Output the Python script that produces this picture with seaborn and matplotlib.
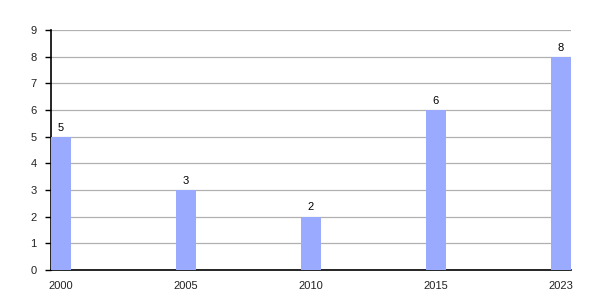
import matplotlib
matplotlib.use("Agg")
import matplotlib.pyplot as plt
import seaborn as sns
import pandas as pd

years = ["2000", "2005", "2010", "2015", "2023"]
values = [5, 3, 2, 6, 8]

sns.set_theme(style="white")
plt.rcParams['font.family'] = ['Liberation Sans', 'DejaVu Sans']

df = pd.DataFrame({"year": years, "value": values})

fig = plt.figure(figsize=(6, 3), dpi=100)
ax = fig.add_axes([0.0842, 0.1, 0.8675, 0.8])
sns.barplot(data=df, x="year", y="value", color="#99aaff", width=0.16,
            saturation=1, ax=ax, zorder=3, linewidth=0, edgecolor="none")
ax.set_xlim(-0.08, 4.08)
ax.set_ylim(0, 9)
ax.set_yticks(range(0, 10))
ax.yaxis.grid(True, color="#b0b0b0", linewidth=0.9, zorder=0)
ax.set_axisbelow(True)
ax.set_xlabel("")
ax.set_ylabel("")
for s in ["top", "right"]:
    ax.spines[s].set_visible(False)
for s in ["left", "bottom"]:
    ax.spines[s].set_color("black")
    ax.spines[s].set_linewidth(1.2)
ax.tick_params(axis="y", left=True, length=4, width=1, color="black", labelsize=8, pad=6, labelcolor="#222222")
ax.tick_params(axis="x", bottom=False, labelsize=8, pad=2, labelcolor="#222222")
for c in ax.containers:
    ax.bar_label(c, fmt="%g", padding=3, fontsize=8, color="black")

fig.savefig("out.png", dpi=100, facecolor="white")
